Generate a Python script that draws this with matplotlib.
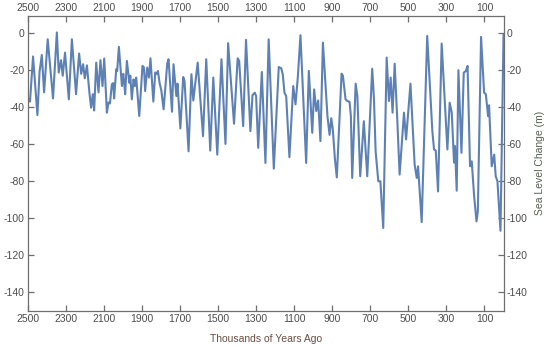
import matplotlib
matplotlib.use("Agg")
import matplotlib.pyplot as plt

plt.rcParams['font.family'] = ['Liberation Sans', 'DejaVu Sans']
plt.rcParams['axes.unicode_minus'] = False

# time (thousands of years ago) and sea level change (m)
kyr_ago = [2500, 2488, 2472, 2449, 2438, 2426, 2414, 2395, 2367, 2347, 2337, 2325, 2316, 2304,
           2284, 2268, 2246, 2230, 2219, 2209, 2200, 2189, 2176, 2167, 2158, 2151, 2140, 2128,
           2118, 2107, 2098, 2084,
           2076, 2068, 2058, 2051, 2046, 2035, 2030, 2021, 2005, 1998, 1993, 1988, 1979, 1966,
           1961, 1953, 1944, 1937, 1930, 1914, 1897, 1889, 1883, 1872, 1863, 1855, 1840, 1830,
           1821, 1816, 1807, 1798, 1786, 1767, 1760, 1742, 1734, 1719, 1713, 1698, 1683, 1676,
           1655,
           1640, 1630, 1607, 1579, 1562, 1541, 1525, 1504, 1482, 1461, 1447, 1416, 1397, 1389,
           1368, 1353, 1330, 1319, 1307, 1300, 1289, 1270, 1251,
           1234, 1207, 1181, 1168, 1160, 1151, 1142, 1125, 1105, 1093, 1081, 1067, 1037, 1023,
           1005, 995, 984, 974, 962, 949, 925, 914, 905, 897, 886, 876, 851, 844, 830,
           821, 809, 802, 795, 777, 768, 753, 734, 716, 704, 690, 681, 672, 658, 647, 632, 614,
           602, 593, 583, 572, 559, 546, 523, 512, 489, 479, 467, 456, 449, 430, 414, 401,
           374, 365, 356, 344, 325, 295, 283, 272, 260, 255, 246, 237, 221, 209, 198, 189, 176,
           167, 155, 142, 135, 118, 102, 93, 81, 76, 62, 49, 41, 32, 16, 0]
sea_level = [-35, -37, -12.6, -44.3, -21, -11.8, -32, -3.3, -35.3, 0.4, -21.3, -14.6, -23, -10.5,
             -35.8, -3.3, -33, -11, -22, -16.8, -24.4, -17.4, -32, -40.3, -33, -41.8, -15.9, -32,
             -14.6, -28.6, -13.7, -43,
             -37.5, -38, -27.7, -27, -35.3, -19.5, -20.5, -7.4, -28.6, -22, -27, -33, -15, -26.8,
             -23, -35.8, -25, -28.6, -24, -44.8, -17.7, -18.6, -31.3, -18.6, -24, -13.6, -37, -21.3,
             -22, -20.4, -27, -31, -41.2, -16.5, -14.1, -42.5, -16.8, -34, -27.3, -51.5, -23.7, -26,
             -63.9,
             -22.2, -36.4, -15.9, -55.7, -14.1, -63.5, -24, -65.7, -14.1, -59.9, -5.4, -49, -13.6, -15,
             -50.3, -3.6, -53, -33.5, -32.2, -34, -62, -21, -70.2,
             -3.3, -73.3, -18.3, -19, -22.2, -32.2, -34, -67.1, -28.6, -38.5, -24, -1.1, -70.2, -20.4,
             -53.9, -30.4, -42.1, -36.4, -58.4, -5.1, -45, -55, -46, -52, -68, -78, -21.9, -23, -35.8,
             -36.7, -37.1, -45, -78.3, -27.3, -34, -77.4, -47.6, -77.4, -50, -19.2, -35, -63.9, -80.1, -80.1, -105.4, -13.2,
             -36.7, -24, -43, -16.5, -45, -76.5, -43, -57.5, -27.3, -46.7, -71.1, -78.3, -72, -102.2, -46.7, -1.5,
             -53, -62.9, -63.5, -85.6, -5.6, -62.9, -37.6, -43, -70, -61.1, -85.2, -20, -64.7, -21.3, -20.5, -17.7, -72,
             -69.3, -87.4, -101.8, -96.4, -2, -32.2, -33, -44.9, -39, -72, -65.7, -77.4, -80, -106.9, -1]

x_ticks = [2500, 2300, 2100, 1900, 1700, 1500, 1300, 1100, 900, 700, 500, 300, 100]
y_ticks = [0, -20, -40, -60, -80, -100, -120, -140]

fig = plt.figure(figsize=(5.5, 3.46), dpi=100)
ax = fig.add_axes([0.0504, 0.1026, 0.8651, 0.8512])

ax.plot(kyr_ago, sea_level, color='#5E81B5', lw=1.5, solid_joinstyle='round')

ax.set_xlim(2500, 0)
ax.set_ylim(-150, 9.3)

frame_col = '#6e6e6e'
label_col = '#4d4d4d'
for s in ax.spines.values():
    s.set_color(frame_col)
    s.set_linewidth(0.9)

ax.set_xticks(x_ticks)
ax.set_yticks(y_ticks)
ax.tick_params(axis='both', direction='in', length=4, width=0.9, color=frame_col,
               labelsize=7.5, labelcolor=label_col, pad=2.5)
ax.tick_params(axis='x', top=True, labeltop=True, bottom=True, labelbottom=True)
ax.tick_params(axis='y', left=True, right=True, labelleft=True, labelright=True)

ax.set_xlabel('Thousands of Years Ago', fontsize=7.5, color='#6a4e44', labelpad=7)
ax2 = ax.secondary_yaxis('right')
ax2.set_yticks([])
ax2.spines['right'].set_visible(False)
ax2.set_ylabel('Sea Level Change (m)', fontsize=7.5, color='#556050', labelpad=23)

fig.savefig('out.png', dpi=100)
